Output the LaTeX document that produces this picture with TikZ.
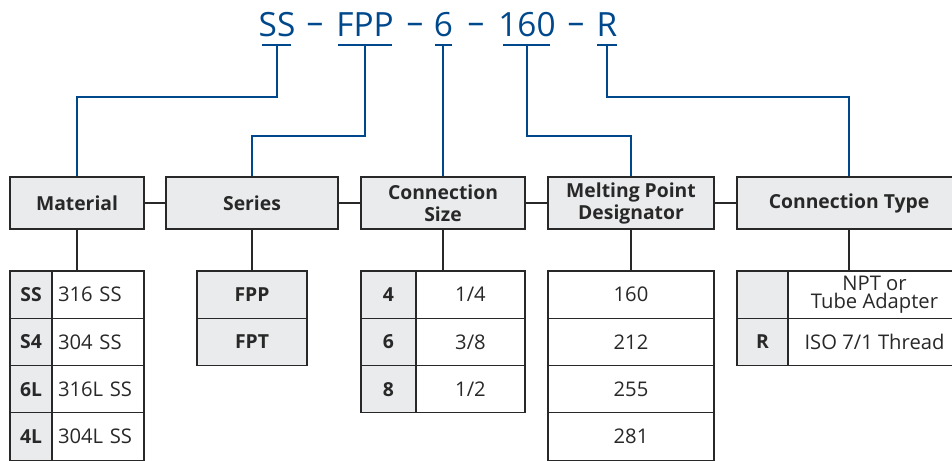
\documentclass[tikz,border=0pt]{standalone}
\usepackage{fontspec}
\setmainfont{Open Sans}
\definecolor{codeblue}{RGB}{0,72,140}
\definecolor{boxgray}{RGB}{234,235,237}
\definecolor{inkgray}{RGB}{40,40,40}
\tikzset{
    hdr/.style={draw=inkgray, fill=boxgray, line width=0.7pt, inner sep=0pt,
        minimum height=1.04cm, align=center, text=inkgray,
        font=\bfseries\fontsize{11}{12.5}\selectfont},
    keycell/.style={draw=inkgray, fill=boxgray, line width=0.7pt, inner sep=0pt,
        minimum height=0.946cm, text=inkgray,
        font=\bfseries\fontsize{11}{12}\selectfont},
    valcell/.style={draw=inkgray, fill=white, line width=0.7pt, inner sep=0pt,
        minimum height=0.946cm, align=center, text=inkgray,
        font=\fontsize{11.5}{10.2}\selectfont},
    matcell/.style={valcell, minimum width=1.84cm, text width=1.6cm, align=left},
    code/.style={text=codeblue, inner sep=0pt, font=\fontsize{19}{19}\selectfont},
    codeline/.style={draw=codeblue, line width=0.9pt},
    uline/.style={draw=codeblue, line width=1.3pt},
    link/.style={draw=inkgray, line width=0.7pt}
}
\begin{document}
\begin{tikzpicture}[x=0.02cm, y=-0.02cm]
    \useasboundingbox (0,0) rectangle (952,460);
    \clip (0,0) rectangle (952,460);
    \fill[white] (0,0) rectangle (952,460);

    % 1. the part number
    \node[code] (cSS)  at (277,24.5) {SS};
    \node[code] (cFPP) at (365,24.5) {FPP};
    \node[code] (c6)   at (443.5,24.5) {6};
    \node[code] (c160) at (527,24.5) {160};
    \node[code] (cR)   at (607,24.5) {R};
    \node[code, anchor=base] (d1) at (315,33) {–};
    \node[code, anchor=base] (d2) at (415,33) {–};
    \node[code, anchor=base] (d3) at (476,33) {–};
    \node[code, anchor=base] (d4) at (576,33) {–};

    % underlines below each field
    \coordinate (uSS)  at (277,45);
    \coordinate (uFPP) at (365,45);
    \coordinate (u6)   at (443,45);
    \coordinate (u160) at (527,45);
    \coordinate (uR)   at (607,45);
    \draw[uline] (262,45) -- (291,45);
    \draw[uline] (338,45) -- (392,45);
    \draw[uline] (435,45) -- (452,45);
    \draw[uline] (503,45) -- (550,45);
    \draw[uline] (597,45) -- (617,45);

    % 2. header boxes
    \node[hdr, minimum width=2.68cm] (hMat)  at (77,203)  {Material};
    \node[hdr, minimum width=3.44cm] (hSer)  at (252,203) {Series};
    \node[hdr, minimum width=3.28cm] (hSize) at (443,203) {Connection\\Size};
    \node[hdr, minimum width=3.32cm] (hMelt) at (631,203) {Melting Point\\Designator};
    \node[hdr, minimum width=4.48cm] (hType) at (849,203) {Connection Type};

    \draw[link] (hMat) -- (hSer);
    \draw[link] (hSer) -- (hSize);
    \draw[link] (hSize) -- (hMelt);
    \draw[link] (hMelt) -- (hType);

    % 3. blue leaders from the code to the headers
    \draw[codeline] (uSS) -- ++(0,52) -| (hMat.north);
    \draw[codeline] (uFPP) -- ++(0,91) -| (hSer.north);
    \draw[codeline] (u6) -- (hSize.north);
    \draw[codeline] (u160) -- ++(0,91) -| (hMelt.north);
    \draw[codeline] (uR) -- ++(0,52) -| (hType.north);

    % 4. material table
    \node[keycell, minimum width=0.84cm] (matK1) at (31,294.6) {SS};
    \node[keycell, minimum width=0.84cm] (matK2) at (31,341.9) {S4};
    \node[keycell, minimum width=0.84cm] (matK3) at (31,389.2) {6L};
    \node[keycell, minimum width=0.84cm] (matK4) at (31,436.5) {4L};
    \node[matcell] (matV1) at (98,294.6) {316 SS};
    \node[matcell] (matV2) at (98,341.9) {304 SS};
    \node[matcell] (matV3) at (98,389.2) {316L SS};
    \node[matcell] (matV4) at (98,436.5) {304L SS};

    % 5. series table
    \node[keycell, minimum width=2.2cm] (serK1) at (252,294.6) {FPP};
    \node[keycell, minimum width=2.2cm] (serK2) at (252,341.9) {FPT};

    % 6. connection size table
    \node[keycell, minimum width=1.1cm] (sizeK1) at (388.5,294.6) {4};
    \node[keycell, minimum width=1.1cm] (sizeK2) at (388.5,341.9) {6};
    \node[keycell, minimum width=1.1cm] (sizeK3) at (388.5,389.2) {8};
    \node[valcell, minimum width=2.18cm] (sizeV1) at (470.5,294.6) {1/4};
    \node[valcell, minimum width=2.18cm] (sizeV2) at (470.5,341.9) {3/8};
    \node[valcell, minimum width=2.18cm] (sizeV3) at (470.5,389.2) {1/2};

    % 7. melting point table
    \node[valcell, minimum width=3.32cm] (meltV1) at (631,294.6) {160};
    \node[valcell, minimum width=3.32cm] (meltV2) at (631,341.9) {212};
    \node[valcell, minimum width=3.32cm] (meltV3) at (631,389.2) {255};
    \node[valcell, minimum width=3.32cm] (meltV4) at (631,436.5) {281};

    % 8. connection type table
    \node[keycell, minimum width=1.02cm] (typeK1) at (762.5,294.6) {};
    \node[keycell, minimum width=1.02cm] (typeK2) at (762.5,341.9) {R};
    \node[valcell, minimum width=3.46cm] (typeV1) at (874.5,294.6) {NPT or\\Tube Adapter};
    \node[valcell, minimum width=3.46cm] (typeV2) at (874.5,341.9) {ISO 7/1 Thread};

    % 9. headers down to their tables
    \draw[link] (hMat.south) -- (hMat.south |- matV1.north);
    \draw[link] (hSer.south) -- (serK1.north);
    \draw[link] (hSize.south) -- (hSize.south |- sizeV1.north);
    \draw[link] (hMelt.south) -- (meltV1.north);
    \draw[link] (hType.south) -- (hType.south |- typeV1.north);

\end{tikzpicture}
\end{document}
